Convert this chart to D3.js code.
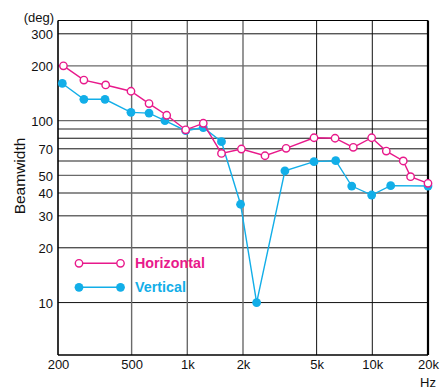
<!DOCTYPE html>
<html>
<head>
<meta charset="utf-8">
<script src="https://cdn.jsdelivr.net/npm/d3@7"></script>
<style>
  body { margin: 0; background: #fff; }
  svg { display: block; font-family: "Liberation Sans", Arial, sans-serif; }
</style>
</head>
<body>
<div id="chart"></div>
<script>
// data
const freqH = [214, 276, 362, 496, 621, 774, 980, 1220, 1530, 1960, 2630, 3420, 4840, 6290, 7890, 9920, 11900, 14700, 16100, 20000];
const beamH = [200, 167, 157, 145, 124, 107, 89, 96.7, 66, 69.8, 64.1, 70.4, 80.5, 80, 71.3, 80.5, 68, 60, 49.2, 45.2];

const freqV = [211, 276, 359, 496, 621, 757, 980, 1220, 1530, 1940, 2370, 3370, 4840, 6340, 7740, 9920, 12570, 20000];
const beamV = [160, 131, 131, 111, 110, 100, 88, 91.6, 76.6, 34.7, 10, 53, 59.5, 60.2, 43.7, 39, 43.9, 43.7];

const xTicks = [200, 500, 1000, 2000, 5000, 10000, 20000];
const xTickLabels = ["200", "500", "1k", "2k", "5k", "10k", "20k"];
const yGrid = [300, 200, 100, 90, 80, 70, 60, 50, 40, 30, 20, 10];
const yLabelTicks = [300, 200, 100, 70, 50, 40, 30, 20, 10];
const seriesNames = ["Horizontal", "Vertical"];

// which grid lines print dark in the scan
const darkY = [300, 80, 70, 20, 10];
const darkX = [5000, 10000];

const width = 448, height = 390;
const margin = { top: 20.5, right: 20, bottom: 35, left: 58 };
const innerWidth = width - margin.left - margin.right;
const innerHeight = height - margin.top - margin.bottom;

const pink = "#e8198b";
const blue = "#12aee8";

const xScale = d3.scaleLog()
    .domain([200, 20000])
    .range([0, innerWidth]);

// log scale fitted so that 10 and 100 fall on their grid lines
const yScale = d3.scaleLog()
    .domain([5.15, 355])
    .range([innerHeight, 0]);

const svg = d3.select("#chart")
    .append("svg")
    .attr("width", width)
    .attr("height", height);

const g = svg.append("g")
    .attr("transform", `translate(${margin.left}, ${margin.top})`);

// horizontal grid
g.append("g")
    .selectAll("line")
    .data(yGrid)
    .join("line")
    .attr("x1", 0)
    .attr("x2", innerWidth)
    .attr("y1", d => yScale(d))
    .attr("y2", d => yScale(d))
    .attr("stroke", d => darkY.includes(d) ? "#111" : "#6a6a6a")
    .attr("stroke-width", d => darkY.includes(d) ? 1 : 1.4);

// vertical grid
g.append("g")
    .selectAll("line")
    .data(xTicks.slice(1, -1))
    .join("line")
    .attr("x1", d => xScale(d))
    .attr("x2", d => xScale(d))
    .attr("y1", 0)
    .attr("y2", innerHeight)
    .attr("stroke", d => darkX.includes(d) ? "#111" : "#6a6a6a")
    .attr("stroke-width", d => darkX.includes(d) ? 1 : 1.4);

// frame
g.append("line").attr("x1", 0).attr("x2", innerWidth).attr("y1", 0).attr("y2", 0)
    .attr("stroke", "#000").attr("stroke-width", 1);
g.append("line").attr("x1", 0).attr("x2", innerWidth).attr("y1", innerHeight).attr("y2", innerHeight)
    .attr("stroke", "#000").attr("stroke-width", 1.6);
g.append("line").attr("x1", 0).attr("x2", 0).attr("y1", 0).attr("y2", innerHeight)
    .attr("stroke", "#000").attr("stroke-width", 1.6);
g.append("line").attr("x1", innerWidth).attr("x2", innerWidth).attr("y1", 0).attr("y2", innerHeight)
    .attr("stroke", "#000").attr("stroke-width", 2.2);

// tick labels
const yAxis = d3.axisLeft(yScale)
    .tickValues(yLabelTicks)
    .tickSize(0)
    .tickPadding(5)
    .tickFormat(d3.format("d"));
g.append("g")
    .call(yAxis)
    .call(s => s.select(".domain").remove())
    .selectAll("text")
    .attr("font-family", "Liberation Sans, Arial, sans-serif")
    .attr("font-size", 13)
    .attr("fill", "#111")
    .attr("dy", "0.36em");

const xAxis = d3.axisBottom(xScale)
    .tickValues(xTicks)
    .tickSize(0)
    .tickPadding(5)
    .tickFormat((d, i) => xTickLabels[i]);
g.append("g")
    .attr("transform", `translate(0, ${innerHeight})`)
    .call(xAxis)
    .call(s => s.select(".domain").remove())
    .selectAll("text")
    .attr("font-family", "Liberation Sans, Arial, sans-serif")
    .attr("font-size", 13)
    .attr("fill", "#111");

svg.append("text")
    .attr("x", 436).attr("y", 386.5)
    .attr("text-anchor", "end")
    .attr("font-size", 13)
    .attr("fill", "#111")
    .text("Hz");

svg.append("text")
    .attr("x", 54).attr("y", 22)
    .attr("text-anchor", "end")
    .attr("font-size", 13)
    .attr("fill", "#111")
    .text("(deg)");

svg.append("text")
    .attr("transform", `translate(25, 176) rotate(-90)`)
    .attr("text-anchor", "middle")
    .attr("font-size", 15.5)
    .attr("fill", "#111")
    .text("Beamwidth");

// series
const line = d3.line()
    .x(d => xScale(d[0]))
    .y(d => yScale(d[1]));

const dataV = freqV.map((f, i) => [f, beamV[i]]);
const dataH = freqH.map((f, i) => [f, beamH[i]]);

g.append("path")
    .datum(dataV)
    .attr("d", line)
    .attr("fill", "none")
    .attr("stroke", blue)
    .attr("stroke-width", 1.4);
g.selectAll(".dotV")
    .data(dataV)
    .join("circle")
    .attr("class", "dotV")
    .attr("cx", d => xScale(d[0]))
    .attr("cy", d => yScale(d[1]))
    .attr("r", 4.4)
    .attr("fill", blue);

g.append("path")
    .datum(dataH)
    .attr("d", line)
    .attr("fill", "none")
    .attr("stroke", pink)
    .attr("stroke-width", 1.4);
g.selectAll(".dotH")
    .data(dataH)
    .join("circle")
    .attr("class", "dotH")
    .attr("cx", d => xScale(d[0]))
    .attr("cy", d => yScale(d[1]))
    .attr("r", 3.7)
    .attr("fill", "#fff")
    .attr("stroke", pink)
    .attr("stroke-width", 1.4);

// legend
const legend = svg.append("g").attr("transform", "translate(79, 263.3)");
seriesNames.forEach((name, i) => {
    const col = i === 0 ? pink : blue;
    const row = legend.append("g").attr("transform", `translate(0, ${i * 24})`);
    row.append("line").attr("x1", 0).attr("x2", 41.5).attr("y1", 0).attr("y2", 0)
        .attr("stroke", col).attr("stroke-width", 1.4);
    [0, 41.5].forEach(cx => {
        const c = row.append("circle").attr("cx", cx).attr("cy", 0);
        if (i === 0) c.attr("r", 3.7).attr("fill", "#fff").attr("stroke", col).attr("stroke-width", 1.4);
        else c.attr("r", 4.4).attr("fill", col);
    });
    row.append("text")
        .attr("x", 56).attr("y", 4.5)
        .attr("font-size", 14.3)
        .attr("font-weight", "bold")
        .attr("fill", col)
        .text(name);
});
</script>
</body>
</html>
